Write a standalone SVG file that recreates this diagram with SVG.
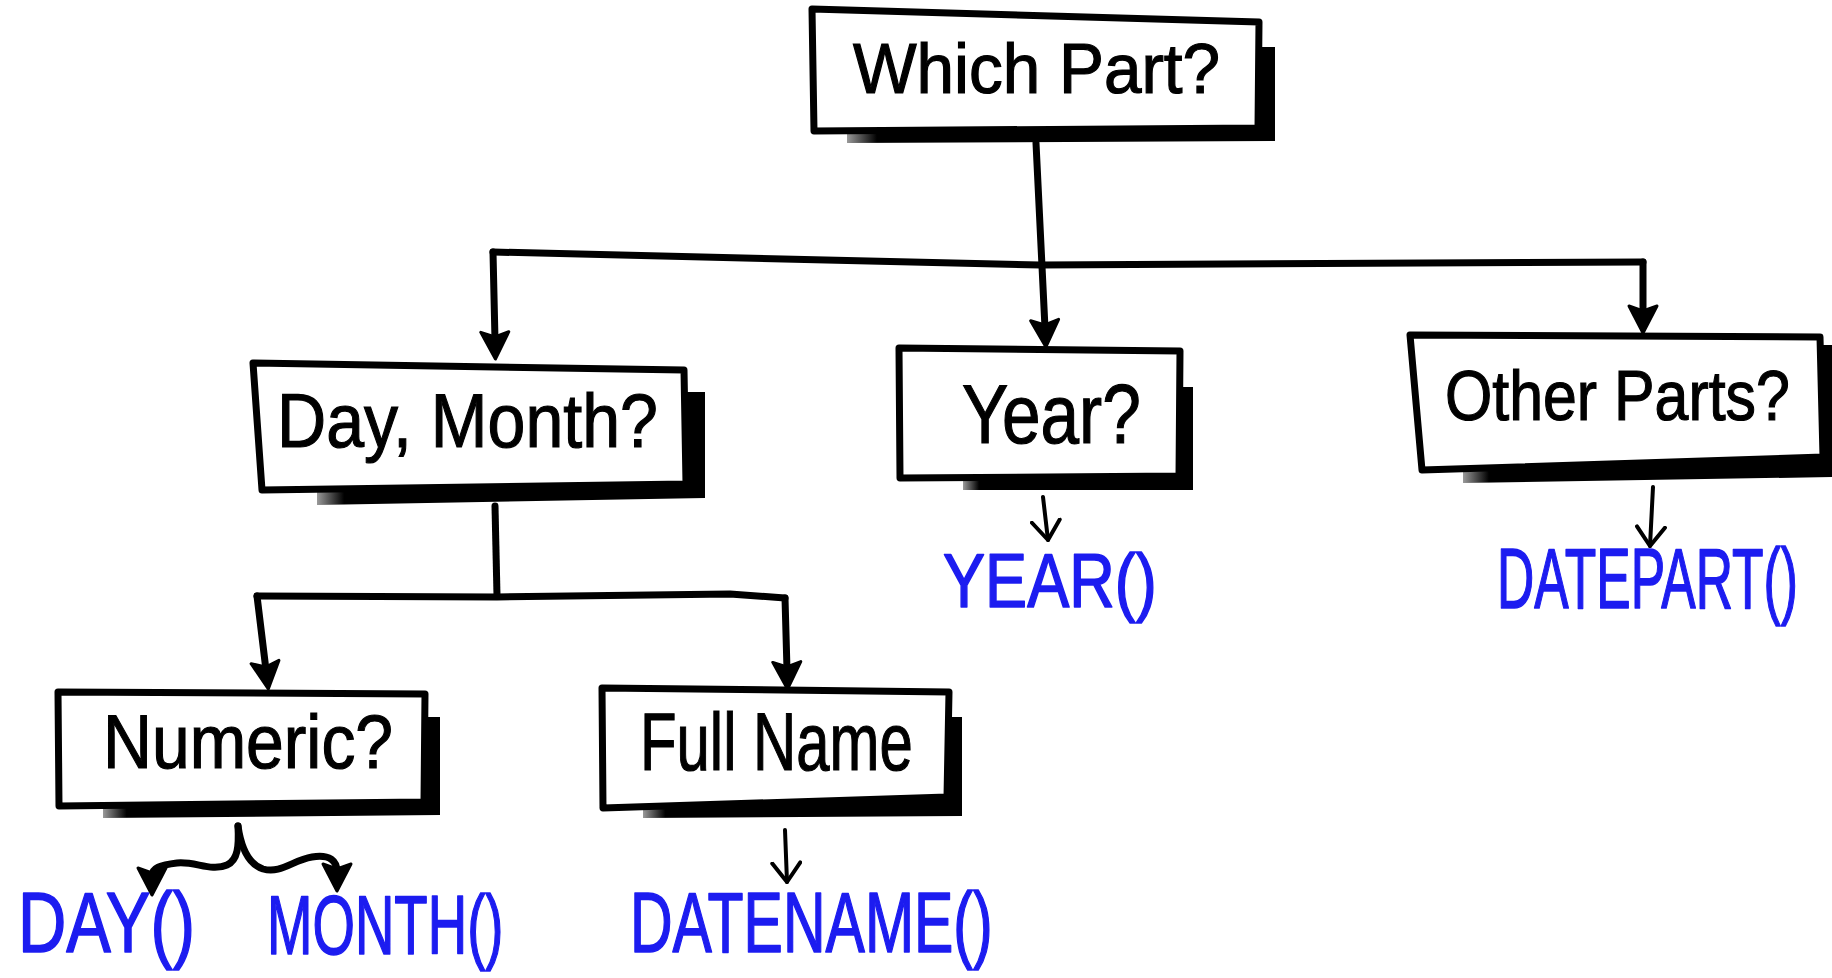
<svg xmlns="http://www.w3.org/2000/svg" width="1832" height="978" viewBox="0 0 1832 978">
  <style>
    .box { fill: #ffffff; stroke: #000000; stroke-width: 7; stroke-linejoin: round; }
    .shadow { fill: url(#shadeFade); }
    .label { font-family: "Liberation Sans", Arial, sans-serif; fill: #000000; stroke: #000000; stroke-width: 1.2; }
    .fn { font-family: "Liberation Sans", Arial, sans-serif; fill: #1c1cf0; stroke: #1c1cf0; stroke-width: 1.6; stroke-linejoin: round; }
    .wire { fill: none; stroke: #000000; stroke-width: 7; stroke-linecap: round; stroke-linejoin: round; }
    .thin { fill: none; stroke: #000000; stroke-width: 4; stroke-linecap: round; }
  </style>
  <defs>
    <linearGradient id="shadeFade" x1="0" y1="0" x2="1" y2="0">
      <stop offset="0" stop-color="#9a9a9a"/>
      <stop offset="0.07" stop-color="#000000"/>
      <stop offset="1" stop-color="#000000"/>
    </linearGradient>
    <!-- filled hand-drawn arrowhead -->
    <marker id="head" markerUnits="userSpaceOnUse" viewBox="0 0 32 34" markerWidth="32" markerHeight="34" refX="10" refY="17" orient="auto">
      <path d="M2,3 L29,17 L2,31 L7,17 Z" fill="#000000" stroke="#000000" stroke-width="3" stroke-linejoin="round"/>
    </marker>
    <!-- small open arrowhead -->
    <marker id="vee" markerUnits="userSpaceOnUse" viewBox="0 0 24 32" markerWidth="24" markerHeight="32" refX="21" refY="16" orient="auto">
      <path d="M2,2 L21,16 L2,30" fill="none" stroke="#000000" stroke-width="4" stroke-linecap="round" stroke-linejoin="round"/>
    </marker>
  </defs>

  <rect width="1832" height="978" fill="#ffffff"/>

  <!-- connectors -->
  <g id="connectors">
    <path class="wire" d="M1036,143 L1045,328" marker-end="url(#head)"/>
    <path class="wire" d="M493,252 L1040,265 L1643,262"/>
    <path class="wire" d="M493,252 L495,340" marker-end="url(#head)"/>
    <path class="wire" d="M1643,262 L1643,314" marker-end="url(#head)"/>
    <path class="wire" d="M495,506 L497,596"/>
    <path class="wire" d="M257,596 L497,597 L730,594 L785,598"/>
    <path class="wire" d="M257,596 L266,670" marker-end="url(#head)"/>
    <path class="wire" d="M785,598 L787,670" marker-end="url(#head)"/>
    <!-- brace splitting Numeric? into two results -->
    <path class="wire" d="M238,826 C239,846 238,860 227,865 C211,872 195,861 177,863 C160,865 152,868 152,876" marker-end="url(#head)"/>
    <path class="wire" d="M238,826 C241,847 248,864 263,869 C281,874 293,860 312,857 C330,854 337,861 337,872" marker-end="url(#head)"/>
    <!-- small result arrows -->
    <path class="thin" d="M1043,497 L1048,540" marker-end="url(#vee)"/>
    <path class="thin" d="M1653,487 L1650,546" marker-end="url(#vee)"/>
    <path class="thin" d="M785,830 L787,882" marker-end="url(#vee)"/>
  </g>

  <g id="which-part">
    <polygon class="shadow" points="1250,47 1275,47 1275,141 847,143 847,118"/>
    <polygon class="box" points="812,9 1259,22 1258,128 814,131"/>
    <text class="label" transform="translate(853,93) scale(0.963,1)" font-size="70">Which Part?</text>
  </g>

  <g id="day-month">
    <polygon class="shadow" points="678,392 705,392 705,498 317,505 317,480"/>
    <polygon class="box" points="253,363 684,370 686,484 262,490"/>
    <text class="label" transform="translate(277,447) scale(0.896,1)" font-size="76">Day, Month?</text>
  </g>

  <g id="year">
    <polygon class="shadow" points="1170,387 1193,387 1193,490 963,490 963,468"/>
    <polygon class="box" points="899,348 1180,351 1179,476 900,478"/>
    <text class="label" transform="translate(962,443) scale(0.826,1)" font-size="84">Year?</text>
  </g>

  <g id="other-parts">
    <polygon class="shadow" points="1815,345 1834,345 1834,477 1463,483 1463,460"/>
    <polygon class="box" points="1410,335 1820,337 1823,457 1422,470"/>
    <text class="label" transform="translate(1445,420) scale(0.869,1)" font-size="70">Other Parts?</text>
  </g>

  <g id="numeric">
    <polygon class="shadow" points="418,717 440,717 440,815 103,818 103,796"/>
    <polygon class="box" points="58,692 425,694 424,802 59,806"/>
    <text class="label" transform="translate(103,768) scale(0.892,1)" font-size="76">Numeric?</text>
  </g>

  <g id="full-name">
    <polygon class="shadow" points="940,717 962,717 962,816 643,818 643,796"/>
    <polygon class="box" points="602,688 949,692 947,797 603,808"/>
    <text class="label" transform="translate(640,770) scale(0.73,1)" font-size="82">Full Name</text>
  </g>

  <g id="results">
    <text class="fn" transform="translate(943,607) scale(0.83,1)" font-size="76">YEAR()</text>
    <text class="fn" transform="translate(1497,608) scale(0.6,1)" font-size="86">DATEPART()</text>
    <text class="fn" transform="translate(18,952) scale(0.777,1)" font-size="86">DAY()</text>
    <text class="fn" transform="translate(267,954) scale(0.65,1)" font-size="84">MONTH()</text>
    <text class="fn" transform="translate(630,952) scale(0.686,1)" font-size="86">DATENAME()</text>
  </g>
</svg>
